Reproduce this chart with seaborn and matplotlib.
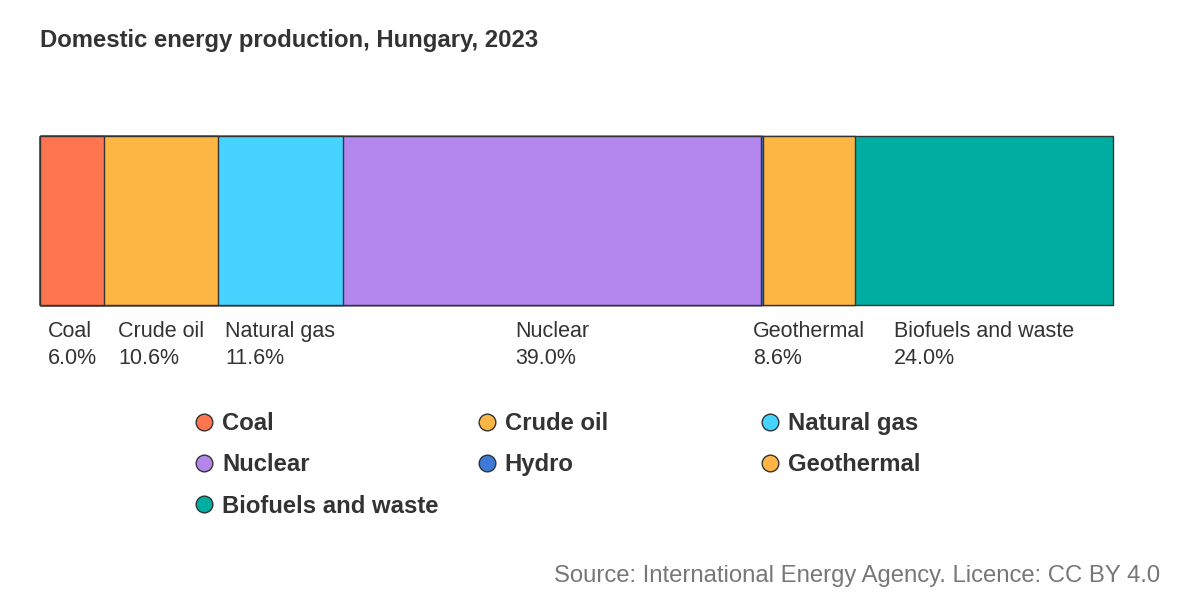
import numpy as np
import matplotlib
matplotlib.use("Agg")
import matplotlib.pyplot as plt
from matplotlib.lines import Line2D
import seaborn as sns

# shares of domestic energy production, Hungary 2023 (%)
sources = ["Coal", "Crude oil", "Natural gas", "Nuclear", "Hydro", "Geothermal", "Biofuels and waste"]
shares = [6.0, 10.6, 11.6, 39.0, 0.2, 8.6, 24.0]
colors = ["#ff7550", "#fdb643", "#47d3ff", "#b386ee", "#3e7bd6", "#fdb643", "#00ada1"]

title = "Domestic energy production, Hungary, 2023"
source_note = "Source: International Energy Agency. Licence: CC BY 4.0"

sns.set_theme(style="white")
plt.rcParams["font.family"] = ["Liberation Sans", "DejaVu Sans"]

W, H = 1200, 600
fig = plt.figure(figsize=(12, 6), dpi=100)
ax = fig.add_axes([40 / W, (H - 305) / H, 1073 / W, 169 / H])

cum = np.cumsum(shares)
# stacked bar: draw cumulative bars from the widest down so each covers the next
for i in range(len(sources) - 1, -1, -1):
    sns.barplot(x=[cum[i]], y=["Hungary"], orient="h", color=colors[i],
                saturation=1, edgecolor="#333333", linewidth=1, width=1, ax=ax)

for p in ax.patches:
    p.set_clip_on(False)

ax.set_xlim(0, cum[-1])
ax.set_ylim(0.5, -0.5)
ax.axis("off")

# segment labels under the bar
starts = cum - np.array(shares)
for name, share, s in zip(sources, shares, starts):
    if share < 1:
        continue
    ax.annotate(f"{name}\n{share:.1f}%", xy=(s + share / 2, H - 321),
                xycoords=("data", "figure pixels"), ha="center", va="top",
                multialignment="left", fontsize=15.5, color="#333333",
                linespacing=1.35)

# legend, three fixed-width columns
handles = [Line2D([], [], marker="o", linestyle="", markersize=12,
                  markerfacecolor=c, markeredgecolor="#333333", markeredgewidth=1)
           for c in colors]
col_x = [195, 478, 761]
for k in range(3):
    idx = list(range(k, len(sources), 3))
    leg = fig.legend([handles[i] for i in idx], [sources[i] for i in idx],
                     loc="upper left", bbox_to_anchor=(col_x[k] / W, 1 - 412 / H),
                     frameon=False, borderaxespad=0, borderpad=0,
                     handlelength=0.745, handletextpad=0.38, labelspacing=0.77,
                     prop={"size": 17.2, "weight": "bold"})
    for t in leg.get_texts():
        t.set_color("#333333")

fig.text(40 / W, 1 - 47 / H, title, ha="left", va="baseline",
         fontsize=17.2, fontweight="bold", color="#333333")
fig.text(1160 / W, 18 / H, source_note, ha="right", va="baseline",
         fontsize=17.2, color="#777777")

fig.savefig("out.png", dpi=100, facecolor="white")
